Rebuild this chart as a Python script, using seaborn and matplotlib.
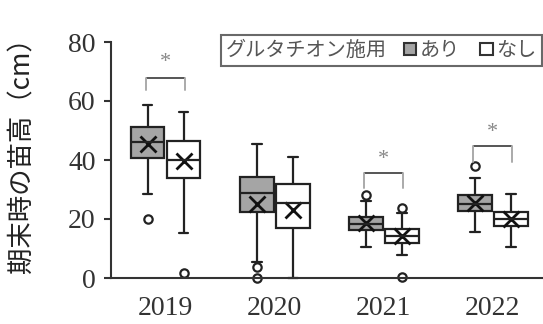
import numpy as np
import pandas as pd
import matplotlib
matplotlib.use("Agg")
import matplotlib.pyplot as plt
import seaborn as sns
from matplotlib.patches import Patch
from matplotlib.offsetbox import HPacker

# ---------------- data ----------------
years = ["2019", "2020", "2021", "2022"]
groups = ["あり", "なし"]

# box statistics, order: 2019あり, 2019なし, 2020あり, 2020なし, ...
q1 = [40.6, 33.8, 22.4, 16.8, 16.3, 12.0, 22.8, 17.5]
med = [46.1, 40.0, 28.7, 25.5, 18.3, 14.2, 25.1, 19.9]
q3 = [51.1, 46.5, 34.3, 31.9, 20.6, 16.5, 28.0, 22.4]
whisk_lo = [28.5, 15.4, 5.5, 0.0, 10.6, 7.8, 15.5, 10.4]
whisk_hi = [58.6, 56.2, 45.4, 41.1, 26.2, 22.0, 33.8, 28.5]
out_lo = [[20.1], [1.6], [3.8, 0.0], [], [], [0.5], [], []]
out_hi = [[], [], [], [], [28.1], [23.7], [38.0], []]
means = [45.5, 39.7, 25.0, 23.0, 18.5, 14.2, 25.3, 20.0]

sig_years = ["2019", "2021", "2022"]
sig_top = [67.8, 35.6, 44.7]
sig_leg = [63.7, 30.5, 39.4]
sig_star = [72.9, 40.0, 49.2]

yticks = [0, 20, 40, 60, 80]
ylabel = "期末時の苗高（cm）"
legend_title = "グルタチオン施用"

# ---------------- samples reproducing the box statistics ----------------
rows = []
k = 0
for y in years:
    for g in groups:
        below = out_lo[k] + [whisk_lo[k]] * (3 - len(out_lo[k]))
        above = [whisk_hi[k]] * (3 - len(out_hi[k])) + out_hi[k]
        vals = below + [q1[k], q1[k], med[k], med[k], med[k], q3[k], q3[k]] + above
        rows += [(y, g, v) for v in vals]
        k += 1
df = pd.DataFrame(rows, columns=["year", "group", "height"])
mdf = pd.DataFrame({"year": np.repeat(years, 2), "group": groups * len(years), "mean": means})

# ---------------- style ----------------
JP = ["Noto Sans CJK JP", "DejaVu Sans"]
SERIF = ["Liberation Serif", "DejaVu Serif"]
EDGE = "#222222"
GRAY = "#a5a5a5"
TXT = "#333333"

sns.set_theme(style="white")
plt.rcParams["font.family"] = JP

fig = plt.figure(figsize=(5.43, 3.24), dpi=100)
ax = fig.add_axes([111 / 543, 1 - 278 / 324, 1 - 111 / 543, (278 - 42) / 324])

sns.boxplot(
    data=df, x="year", y="height", hue="group", order=years, hue_order=groups,
    palette={"あり": GRAY, "なし": "white"}, width=0.66, gap=0.06, whis=1.5,
    linecolor=EDGE, linewidth=1.6, fliersize=6, legend=False, ax=ax,
    flierprops=dict(marker="o", markerfacecolor="none", markeredgecolor=EDGE,
                    markeredgewidth=1.6),
)

# shorten whisker caps
hl = []
for ln in ax.lines:
    xd, yd = np.asarray(ln.get_xdata(), float), np.asarray(ln.get_ydata(), float)
    if len(xd) == 2 and yd[0] == yd[1] and xd[0] != xd[1]:
        hl.append((ln, abs(xd[1] - xd[0])))
maxlen = max(l for _, l in hl)
for ln, l in hl:
    if l < 0.8 * maxlen:
        xd = np.asarray(ln.get_xdata(), float)
        c = xd.mean()
        ln.set_xdata([c - 0.045, c + 0.045])

sns.pointplot(
    data=mdf, x="year", y="mean", hue="group", order=years, hue_order=groups,
    dodge=0.33, markers="x", linestyles="none", errorbar=None,
    palette={"あり": "#111111", "なし": "#111111"}, markersize=12,
    markeredgewidth=2, legend=False, ax=ax,
)

for art in ax.lines + ax.patches + ax.collections:
    art.set_clip_on(False)

# significance brackets
for sy, top, leg_, st in zip(sig_years, sig_top, sig_leg, sig_star):
    i = years.index(sy)
    xl, xr = i - 0.18, i + 0.18
    ax.plot([xl, xr], [top, top], color="#555555", lw=1.4, solid_capstyle="butt")
    ax.plot([xl, xl], [top, leg_], color="#aaaaaa", lw=1.4)
    ax.plot([xr, xr], [top, leg_], color="#aaaaaa", lw=1.4)
    ax.text(i, st, "*", ha="center", va="center", fontsize=16, color="#888888",
            family=SERIF)

ax.set_xlim(-0.5, 3.46)
ax.set_ylim(0, 80)
ax.set_yticks(yticks)
ax.set_xlabel("")
ax.set_ylabel(ylabel, fontsize=19, color="#222222", family=JP)
ax.yaxis.set_label_coords(-0.175, 0.55)

for s in ["top", "right"]:
    ax.spines[s].set_visible(False)
for s in ["left", "bottom"]:
    ax.spines[s].set_color("#333333")
    ax.spines[s].set_linewidth(1.5)

ax.tick_params(axis="y", length=5, width=1.5, color="#333333", pad=6,
               labelsize=20, labelcolor=TXT, left=True)
ax.tick_params(axis="x", length=0, pad=13, labelsize=20, labelcolor=TXT)
for lab in ax.get_xticklabels() + ax.get_yticklabels():
    lab.set_family(SERIF)

# legend: title inline with entries
handles = [Patch(facecolor=GRAY, edgecolor="#333333", linewidth=1.5),
           Patch(facecolor="white", edgecolor="#333333", linewidth=1.5)]
fs = 14.5
leg = ax.legend(
    handles, groups, title=legend_title, ncol=2, loc="upper right",
    bbox_to_anchor=(542 / 543, 1 - 35 / 324), bbox_transform=fig.transFigure,
    borderaxespad=0, frameon=True, fancybox=False, edgecolor="#444444",
    handlelength=0.6, handleheight=0.6, handletextpad=0.2, columnspacing=1.0,
    borderpad=0.12, prop=dict(family=JP, size=fs),
    title_fontproperties=dict(family=JP, size=fs), labelcolor="#555555",
)
leg.get_title().set_color("#555555")
leg.get_frame().set_linewidth(1.5)
box = HPacker(pad=leg.borderpad * fs + 2, sep=0.85 * fs, align="center",
              children=[leg._legend_title_box, leg._legend_handle_box])
box.set_figure(fig)
box.axes = ax
box.set_offset(leg._findoffset)
leg._legend_box = box

fig.savefig("out.png", dpi=100)
